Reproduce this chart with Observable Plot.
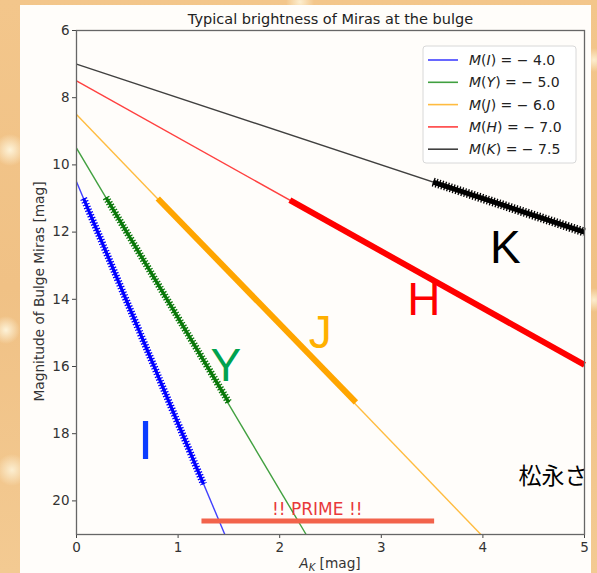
<!DOCTYPE html>
<html>
<head>
<meta charset="utf-8">
<script src="https://cdn.jsdelivr.net/npm/d3@7"></script>
<script src="https://cdn.jsdelivr.net/npm/@observablehq/plot@0.6"></script>
<style>
  html, body { margin: 0; padding: 0; }
  body {
    width: 597px; height: 573px; overflow: hidden; position: relative;
    background:
      radial-gradient(circle at 10px 150px, rgba(255,248,225,0.9) 0, rgba(255,248,225,0) 16px),
      radial-gradient(circle at 6px 330px, rgba(255,248,225,0.9) 0, rgba(255,248,225,0) 14px),
      radial-gradient(circle at 12px 470px, rgba(255,248,225,0.8) 0, rgba(255,248,225,0) 16px),
      radial-gradient(circle at 300px 2px, rgba(255,248,225,0.8) 0, rgba(255,248,225,0) 14px),
      radial-gradient(circle at 594px 60px, rgba(255,248,225,0.8) 0, rgba(255,248,225,0) 12px),
      radial-gradient(circle at 594px 300px, rgba(255,248,225,0.8) 0, rgba(255,248,225,0) 12px),
      linear-gradient(180deg, #f3c68b, #f0c185 50%, #f3ca92);
  }
  #panel { position: absolute; left: 20px; top: 5px; width: 571px; height: 568px; background: #fffdfa; }
  #chart { position: absolute; left: 0; top: 0; }
</style>
</head>
<body>
<div id="panel"></div>
<div id="chart"></div>
<script>
// ---- data ----
const bands = ["I", "Y", "J", "H", "K"];
const absMag = ["-4.0", "-5.0", "-6.0", "-7.0", "-7.5"];
const bandColors = ["#0000ff", "#008000", "#ffa500", "#ff0000", "#000000"];
const thickColors = ["#0000ff", "#0a780a", "#ffa500", "#ff0000", "#000000"];
const letterColors = ["#0a3cff", "#00a24f", "#ffb000", "#ff0000", "#000000"];

// thin lines (A_K, magnitude) endpoints
const lineStartX = [0, 0, 0, 0, 0];
const lineStartY = [10.5, 9.5, 8.5, 7.5, 7.0];
const lineEndX = [1.46, 2.26, 3.98, 5.0, 5.0];
const lineEndY = [21.0, 21.0, 21.0, 15.95, 12.0];

// thick marked segments
const thickStartX = [0.07, 0.29, 0.80, 2.10, 3.51];
const thickStartY = [11.0, 10.97, 11.0, 11.05, 10.51];
const thickEndX = [1.25, 1.50, 2.75, 5.0, 5.0];
const thickEndY = [19.5, 17.07, 17.07, 15.95, 12.0];
const jagged = [true, true, false, false, true];
const coreWidth = [3.2, 3.2, 6, 6, 5];

// big band letters
const letterX = [0.68, 1.47, 2.40, 3.42, 4.22];
const letterY = [18.74, 16.42, 15.46, 14.48, 12.93];
const letterSize = [56, 46, 46, 46, 46];

// PRIME range
const primeX = [1.23, 3.52];
const primeY = 20.6;
const primeLabel = "!! PRIME !!";
const primeLabelX = 2.37, primeLabelY = 20.43;

const noteText = "松永さ";
const noteX = 4.35, noteY = 19.51;

const xTicks = [0, 1, 2, 3, 4, 5];
const yTicks = [6, 8, 10, 12, 14, 16, 18, 20];
const titleText = "Typical brightness of Miras at the bulge";
const yLabel = "Magnitude of Bulge Miras [mag]";

// ---- tables ----
const lines = bands.map((b, i) => ({b, i, x1: lineStartX[i], y1: lineStartY[i], x2: lineEndX[i], y2: lineEndY[i]}));
const thick = bands.map((b, i) => ({b, i, x1: thickStartX[i], y1: thickStartY[i], x2: thickEndX[i], y2: thickEndY[i]}));
const letters = bands.map((b, i) => ({b, i, x: letterX[i], y: letterY[i]}));

const font = "DejaVu Sans, sans-serif";

const plot = Plot.plot({
  width: 597, height: 573,
  marginLeft: 76, marginRight: 13, marginTop: 30, marginBottom: 39,
  style: {background: "transparent", fontFamily: font, overflow: "visible"},
  x: {domain: [0, 5]},
  y: {domain: [6, 21], reverse: true},
  marks: [
    Plot.axisY({ticks: yTicks, tickFormat: d => String(d), tickSize: 4, tickPadding: 3, fontSize: 13.5, label: null, stroke: "#444", fill: "#333"}),
    Plot.axisX({ticks: xTicks, tickFormat: d => String(d), tickSize: 4, tickPadding: 4, fontSize: 13.5, label: null, stroke: "#444", fill: "#333"}),
    Plot.link(lines, {x1: "x1", y1: "y1", x2: "x2", y2: "y2", stroke: d => bandColors[d.i], strokeOpacity: 0.75, strokeWidth: 1.4}),
    Plot.link(thick, {x1: "x1", y1: "y1", x2: "x2", y2: "y2", stroke: d => thickColors[d.i], strokeWidth: d => coreWidth[d.i], strokeLinecap: "butt"}),
    Plot.link(thick.filter(d => jagged[d.i]), {x1: "x1", y1: "y1", x2: "x2", y2: "y2", stroke: d => thickColors[d.i], strokeWidth: d => coreWidth[d.i] + 4, strokeDasharray: "1.3 1.7", strokeLinecap: "butt"}),
    Plot.link([0], {x1: primeX[0], x2: primeX[1], y1: primeY, y2: primeY, stroke: "#f2634b", strokeWidth: 5}),
    Plot.text([primeLabel], {x: primeLabelX, y: primeLabelY, text: d => d, fill: "#e8383a", fontSize: 17, lineAnchor: "bottom", textAnchor: "middle"}),
    Plot.text(letters, {x: "x", y: "y", text: "b", fill: d => letterColors[d.i], fontSize: d => letterSize[d.i], lineAnchor: "bottom", textAnchor: "middle", fontFamily: "Liberation Sans, Arial, sans-serif"}),
    Plot.text([noteText], {x: noteX, y: noteY, text: d => d, fontSize: 23, lineAnchor: "bottom", textAnchor: "start", fill: "#000", fontFamily: "Noto Sans CJK JP"}),
    Plot.frame({stroke: "#666", strokeWidth: 1.3}),
    Plot.text([titleText], {frameAnchor: "top", dy: -7, lineAnchor: "bottom", textAnchor: "middle", text: d => d, fontSize: 14.5, fill: "#222"}),
    Plot.text([yLabel], {frameAnchor: "left", dx: -37, dy: 9, rotate: -90, textAnchor: "middle", lineAnchor: "middle", text: d => d, fontSize: 13.7, fill: "#333"})
  ]
});

document.getElementById("chart").appendChild(plot);

// x label with math formatting
const svg = d3.select(plot);
const xl = svg.append("text").attr("x", 330).attr("y", 568).attr("text-anchor", "middle")
  .attr("font-family", font).attr("font-size", 13.7).attr("fill", "#333");
xl.append("tspan").attr("font-style", "italic").text("A");
xl.append("tspan").attr("font-style", "italic").attr("font-size", 10).attr("dy", 3).text("K");
xl.append("tspan").attr("dy", -3).text(" [mag]");

// legend
const lg = svg.append("g");
lg.append("rect").attr("x", 423).attr("y", 46).attr("width", 153).attr("height", 117).attr("rx", 3)
  .attr("fill", "#fff").attr("fill-opacity", 0.85).attr("stroke", "#d8d8d8");
bands.forEach((b, i) => {
  const y = 60 + i * 22.3;
  lg.append("line").attr("x1", 428).attr("x2", 458).attr("y1", y).attr("y2", y)
    .attr("stroke", bandColors[i]).attr("stroke-opacity", 0.75).attr("stroke-width", 1.6);
  const t = lg.append("text").attr("x", 469).attr("y", y + 5).attr("text-anchor", "start")
    .attr("font-family", font).attr("font-size", 14).attr("fill", "#222");
  t.append("tspan").attr("font-style", "italic").text("M");
  t.append("tspan").text("(");
  t.append("tspan").attr("font-style", "italic").text(b);
  t.append("tspan").text(") = \u2212 " + absMag[i].replace("-", ""));
});
</script>
</body>
</html>
